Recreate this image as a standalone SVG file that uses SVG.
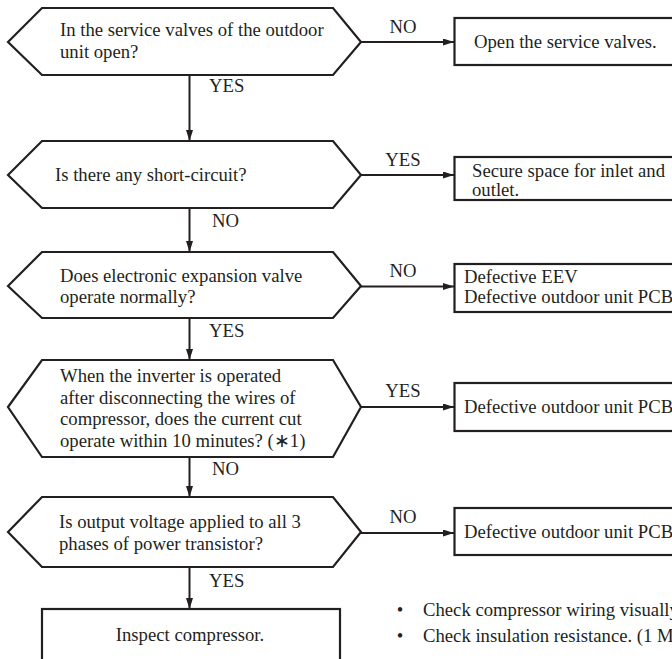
<svg xmlns="http://www.w3.org/2000/svg" width="672" height="659" viewBox="0 0 672 659">
<style>
.shape{fill:#fff;stroke:#231f20;stroke-width:2.2;stroke-linejoin:miter}
.t{font-family:"Liberation Serif","Times New Roman",serif;font-size:18.7px;fill:#231f20}
.m{text-anchor:middle}
.conn{stroke:#231f20;stroke-width:2;fill:none}
</style>
<defs>
<marker id="ah" markerUnits="userSpaceOnUse" markerWidth="11" markerHeight="7" refX="11" refY="3.5" orient="auto">
<path d="M0,0 L11,3.5 L0,7 z" fill="#231f20"/>
</marker>
</defs>
<rect width="672" height="659" fill="#fff"/>

<g id="connectors">
<line class="conn" x1="189.5" y1="75" x2="189.5" y2="141" marker-end="url(#ah)"/>
<line class="conn" x1="189.5" y1="208" x2="189.5" y2="252" marker-end="url(#ah)"/>
<line class="conn" x1="189.5" y1="318" x2="189.5" y2="360" marker-end="url(#ah)"/>
<line class="conn" x1="189.5" y1="457" x2="189.5" y2="497" marker-end="url(#ah)"/>
<line class="conn" x1="189.5" y1="567" x2="189.5" y2="609" marker-end="url(#ah)"/>
<line class="conn" x1="361" y1="42" x2="454" y2="42" marker-end="url(#ah)"/>
<line class="conn" x1="361" y1="175" x2="454" y2="175" marker-end="url(#ah)"/>
<line class="conn" x1="361" y1="286.5" x2="454" y2="286.5" marker-end="url(#ah)"/>
<line class="conn" x1="361" y1="407" x2="454" y2="407" marker-end="url(#ah)"/>
<line class="conn" x1="361" y1="533" x2="454" y2="533" marker-end="url(#ah)"/>
<text class="t" x="209" y="92">YES</text>
<text class="t" x="212" y="227">NO</text>
<text class="t" x="209" y="337">YES</text>
<text class="t" x="212" y="475">NO</text>
<text class="t" x="209" y="587">YES</text>
<text class="t m" x="403" y="33">NO</text>
<text class="t m" x="403" y="166">YES</text>
<text class="t m" x="403" y="277">NO</text>
<text class="t m" x="403" y="397">YES</text>
<text class="t m" x="403" y="523">NO</text>
</g>

<g id="d1">
<polygon class="shape" points="8,42 42,8 333,8 361,42 333,75 42,75"/>
<text class="t" x="60" y="36">In the service valves of the outdoor</text>
<text class="t" x="60" y="58">unit open?</text>
</g>
<g id="d2">
<polygon class="shape" points="8,175 42,141 333,141 361,175 333,208 42,208"/>
<text class="t" x="55" y="181">Is there any short-circuit?</text>
</g>
<g id="d3">
<polygon class="shape" points="8,286 42,252 333,252 361,286 333,318 42,318"/>
<text class="t" x="60" y="282">Does electronic expansion valve</text>
<text class="t" x="60" y="303">operate normally?</text>
</g>
<g id="d4">
<polygon class="shape" points="8,407 42,360 333,360 361,407 333,457 42,457"/>
<text class="t" x="60" y="382">When the inverter is operated</text>
<text class="t" x="60" y="403.5">after disconnecting the wires of</text>
<text class="t" x="60" y="425">compressor, does the current cut</text>
<text class="t" x="60" y="446.5">operate within 10 minutes? (∗1)</text>
</g>
<g id="d5">
<polygon class="shape" points="8,532 42,497 333,497 361,532 333,567 42,567"/>
<text class="t" x="59" y="528">Is output voltage applied to all 3</text>
<text class="t" x="59" y="550">phases of power transistor?</text>
</g>

<g id="b1">
<rect class="shape" x="454.5" y="18" width="260" height="47"/>
<text class="t" x="474" y="48">Open the service valves.</text>
</g>
<g id="b2">
<rect class="shape" x="454.5" y="157" width="260" height="43"/>
<text class="t" x="472" y="177">Secure space for inlet and</text>
<text class="t" x="472" y="196">outlet.</text>
</g>
<g id="b3">
<rect class="shape" x="454.5" y="264" width="260" height="48"/>
<text class="t" x="464" y="283">Defective EEV</text>
<text class="t" x="464" y="303">Defective outdoor unit PCB</text>
</g>
<g id="b4">
<rect class="shape" x="454.5" y="383" width="260" height="48"/>
<text class="t" x="464" y="413">Defective outdoor unit PCB</text>
</g>
<g id="b5">
<rect class="shape" x="454.5" y="508" width="260" height="47"/>
<text class="t" x="464" y="538">Defective outdoor unit PCB</text>
</g>
<g id="b6">
<rect class="shape" x="42" y="609" width="298" height="80"/>
<text class="t m" x="190" y="641">Inspect compressor.</text>
</g>
<g id="notes">
<text class="t m" x="400" y="616">•</text>
<text class="t" x="423" y="616">Check compressor wiring visually</text>
<text class="t m" x="400" y="642">•</text>
<text class="t" x="423" y="642">Check insulation resistance. (1 M</text>
</g>
</svg>
